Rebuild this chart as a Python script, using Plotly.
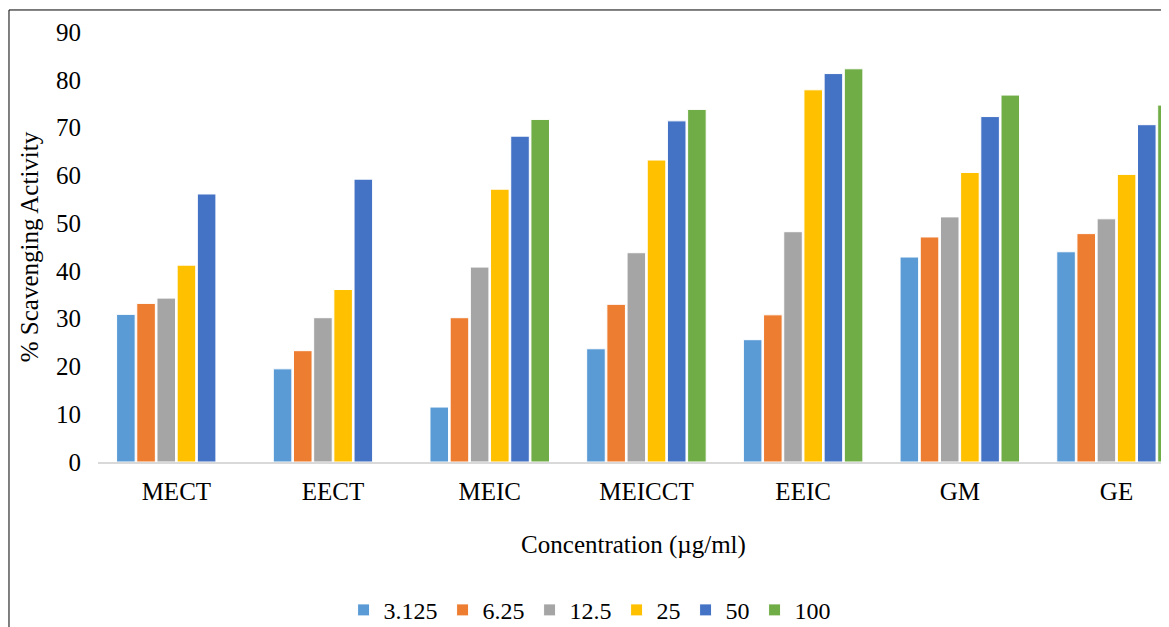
import plotly.graph_objects as go

categories = ["MECT", "EECT", "MEIC", "MEICCT", "EEIC", "GM", "GE"]
series_names = ["3.125", "6.25", "12.5", "25", "50", "100"]
s3125 = [30.9, 19.5, 11.5, 23.7, 25.6, 42.9, 44.0]
s625 = [33.2, 23.3, 30.2, 33.0, 30.8, 47.1, 47.8]
s125 = [34.3, 30.2, 40.8, 43.8, 48.2, 51.3, 50.9]
s25 = [41.2, 36.1, 57.1, 63.2, 77.9, 60.6, 60.2]
s50 = [56.1, 59.2, 68.2, 71.4, 81.3, 72.3, 70.6]
s100 = [None, None, 71.7, 73.8, 82.3, 76.8, 74.7]
colors = ["#5B9BD5", "#ED7D31", "#A5A5A5", "#FFC000", "#4472C4", "#70AD47"]

fig = go.Figure()
for name, vals, c in zip(series_names, [s3125, s625, s125, s25, s50, s100], colors):
    fig.add_trace(go.Bar(x=categories, y=vals, name=name,
                         marker=dict(color=c, line=dict(color="white", width=1))))

font = "Liberation Serif, Times New Roman, serif"
fig.update_layout(
    width=1161, height=619,
    margin=dict(l=90, r=0, t=24, b=165),
    paper_bgcolor="white", plot_bgcolor="white",
    barmode="group", bargap=0.227, bargroupgap=0.08,
    font=dict(family=font, size=25, color="black"),
    xaxis=dict(range=[-0.5, 6.335], showline=True, linecolor="#D9D9D9", linewidth=1.5,
               ticks="", showgrid=False, ticklabelstandoff=6, automargin=False,
               title=dict(text="Concentration (µg/ml)", standoff=32, font=dict(size=25))),
    yaxis=dict(range=[0, 90], dtick=10, showgrid=False, showline=False, zeroline=False,
               ticks="", ticklabelstandoff=16, automargin=False,
               title=dict(text="% Scavenging Activity", standoff=10, font=dict(size=25))),
    legend=dict(orientation="h", xref="paper", yref="container",
                x=0.459, xanchor="center", y=0.027, yanchor="middle",
                font=dict(size=24), itemwidth=30, traceorder="normal"),
    shapes=[dict(type="rect", xref="paper", yref="paper",
                 x0=-0.0831, x1=1.05, y0=-0.45, y1=1.0512,
                 line=dict(color="black", width=1), fillcolor="rgba(0,0,0,0)", layer="above")],
)
fig.write_html("out.html")
